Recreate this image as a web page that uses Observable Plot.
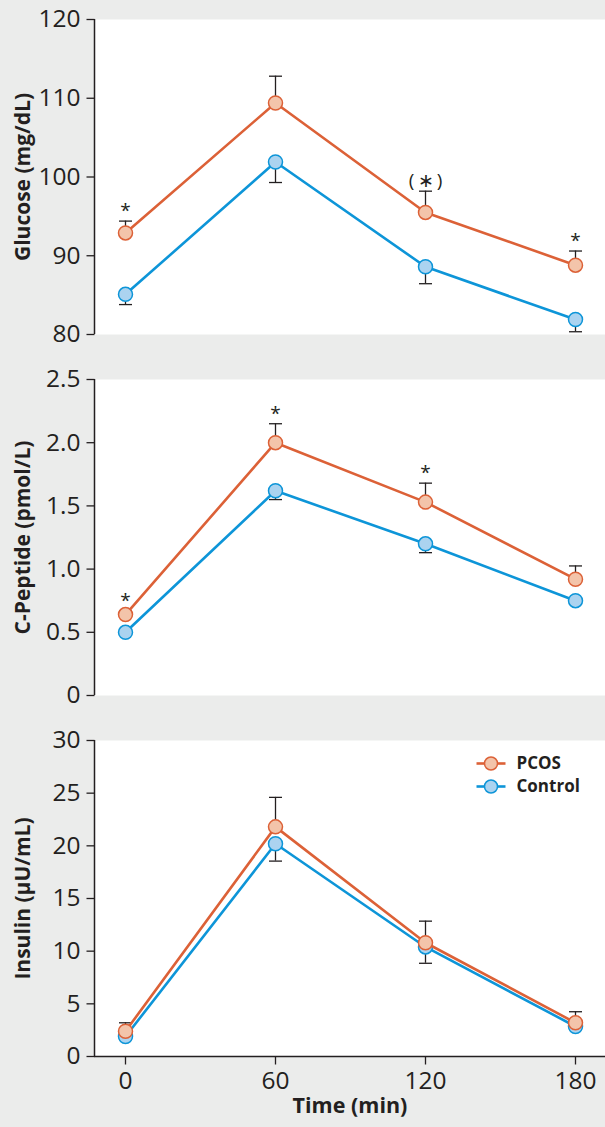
<!DOCTYPE html>
<html><head><meta charset="utf-8">
<script src="https://cdn.jsdelivr.net/npm/d3@7"></script>
<script src="https://cdn.jsdelivr.net/npm/@observablehq/plot@0.6"></script>
<style>
html,body{margin:0;padding:0;background:#ebeceb;}
#chart{width:605px;}
#chart svg{display:block;}
</style></head><body><div id="chart"></div>
<script>
const times = [0, 60, 120, 180];
const seriesNames = ["PCOS", "Control"];
const lineColors = ["#dc6137", "#0d95d8"];
const fillColors = ["#f3c4aa", "#abd3f0"];

const glucosePCOS = [92.9, 109.4, 95.5, 88.8];
const glucosePCOSSem = [1.5, 3.4, 2.7, 1.8];
const glucoseControl = [85.1, 101.9, 88.6, 81.9];
const glucoseControlSem = [1.3, 2.6, 2.15, 1.55];
const glucoseSig = ["*", "", "(\u2009\u2217\u2009)", "*"];
const glucoseTicks = [80, 90, 100, 110, 120];

const cpepPCOS = [0.64, 2.00, 1.53, 0.92];
const cpepPCOSSem = [0.03, 0.15, 0.15, 0.105];
const cpepControl = [0.50, 1.62, 1.20, 0.75];
const cpepControlSem = [0.02, 0.07, 0.07, 0.02];
const cpepSig = ["*", "*", "*", ""];
const cpepTicks = [0, 0.5, 1.0, 1.5, 2.0, 2.5];

const insPCOS = [2.4, 21.8, 10.8, 3.2];
const insPCOSSem = [0.8, 2.8, 2.05, 1.05];
const insControl = [1.9, 20.2, 10.4, 2.85];
const insControlSem = [0.3, 1.65, 1.55, 0.3];
const insSig = ["", "", "", ""];
const insTicks = [0, 5, 10, 15, 20, 25, 30];

const xDomain = [-12.4, 192];
const FONT = "'Open Sans', 'Noto Sans', sans-serif";
const INK = "#231f20";

const capSymbol = {draw(c) { c.moveTo(-6.5, 0); c.lineTo(6.5, 0); }};
const segSymbol = {draw(c) { c.moveTo(-14.5, 0); c.lineTo(14.5, 0); }};
const yTickSymbol = {draw(c) { c.moveTo(-8, 0); c.lineTo(0, 0); }};
const xTickSymbol = {draw(c) { c.moveTo(0, 0); c.lineTo(0, 8); }};

function panel(o) {
  const rows = [];
  times.forEach((t, i) => {
    rows.push({t, series: "PCOS", v: o.pcos[i], e: o.pcos[i] + o.pcosSem[i], s: o.sig[i]});
    rows.push({t, series: "Control", v: o.ctrl[i], e: o.ctrl[i] - o.ctrlSem[i], s: ""});
  });
  const sigRows = rows.filter(d => d.s);
  const marks = [
    Plot.frame({fill: "white", stroke: "none"}),
    Plot.ruleX(rows, {x: "t", y1: "v", y2: "e", stroke: INK, strokeWidth: 1.3}),
    Plot.dot(rows, {x: "t", y: "e", symbol: capSymbol, stroke: INK, strokeWidth: 1.3, fill: "none"})
  ];
  [1, 0].forEach(k => {
    const data = rows.filter(d => d.series === seriesNames[k]);
    marks.push(Plot.line(data, {x: "t", y: "v", stroke: lineColors[k], strokeWidth: 2.6}));
    marks.push(Plot.dot(data, {x: "t", y: "v", r: 7, fill: fillColors[k], stroke: lineColors[k], strokeWidth: 1.5}));
  });
  marks.push(Plot.text(sigRows, {x: "t", y: "e", text: "s", dy: -4, lineAnchor: "bottom", fontSize: 19, fill: INK}));
  // y axis
  marks.push(Plot.ruleX([xDomain[0]], {stroke: INK, strokeWidth: 1.5}));
  marks.push(Plot.dot(o.ticks, {x: () => xDomain[0], y: d => d, symbol: yTickSymbol, stroke: INK, strokeWidth: 1.3}));
  marks.push(Plot.text(o.ticks, {x: () => xDomain[0], y: d => d, text: o.fmt, dx: -14, textAnchor: "end", fontSize: 24.5, fill: INK}));
  marks.push(Plot.text([o.label], {frameAnchor: "left", rotate: -90, dx: -71, textAnchor: "middle", fontWeight: "bold", fontSize: 21, fill: INK}));
  if (o.showX) {
    marks.push(Plot.ruleY([o.domain[0]], {stroke: INK, strokeWidth: 1.5}));
    marks.push(Plot.dot(times, {x: d => d, y: () => o.domain[0], symbol: xTickSymbol, stroke: INK, strokeWidth: 1.3}));
    marks.push(Plot.text(times, {x: d => d, y: () => o.domain[0], text: d => String(d), dy: 25, fontSize: 24.5, fill: INK}));
    marks.push(Plot.text(["Time (min)"], {frameAnchor: "bottom", dy: 56, fontWeight: "bold", fontSize: 21.5, fill: INK}));
  }
  if (o.legend) {
    seriesNames.forEach((name, k) => {
      const dy = 23 + k * 23;
      marks.push(Plot.dot([name], {frameAnchor: "top-right", dx: -114.5, dy, symbol: segSymbol, stroke: lineColors[k], strokeWidth: 2.6}));
      marks.push(Plot.dot([name], {frameAnchor: "top-right", dx: -114.5, dy, r: 6.5, fill: fillColors[k], stroke: lineColors[k], strokeWidth: 1.5}));
      marks.push(Plot.text([name], {frameAnchor: "top-right", dx: -89, dy, textAnchor: "start", lineAnchor: "middle", fontWeight: "bold", fontSize: 17, fill: INK}));
    });
  }
  return Plot.plot({
    width: 605, height: o.height,
    marginLeft: 94, marginRight: 0, marginTop: o.mt, marginBottom: o.mb,
    x: {domain: xDomain, axis: null},
    y: {domain: o.domain, axis: null},
    style: {background: "transparent", fontFamily: FONT, color: INK, overflow: "visible"},
    marks
  });
}

const chart = document.getElementById("chart");
chart.append(panel({label: "Glucose (mg/dL)", domain: [80, 120], ticks: glucoseTicks, fmt: d => String(d),
  pcos: glucosePCOS, pcosSem: glucosePCOSSem, ctrl: glucoseControl, ctrlSem: glucoseControlSem, sig: glucoseSig,
  height: 360, mt: 19, mb: 26}));
chart.append(panel({label: "C-Peptide (pmol/L)", domain: [0, 2.5], ticks: cpepTicks, fmt: d => d === 0 ? "0" : d.toFixed(1),
  pcos: cpepPCOS, pcosSem: cpepPCOSSem, ctrl: cpepControl, ctrlSem: cpepControlSem, sig: cpepSig,
  height: 360, mt: 19, mb: 25}));
chart.append(panel({label: "Insulin (\u00b5U/mL)", domain: [0, 30], ticks: insTicks, fmt: d => String(d),
  pcos: insPCOS, pcosSem: insPCOSSem, ctrl: insControl, ctrlSem: insControlSem, sig: insSig,
  height: 407, mt: 20, mb: 71, showX: true, legend: true}));
</script></body></html>
